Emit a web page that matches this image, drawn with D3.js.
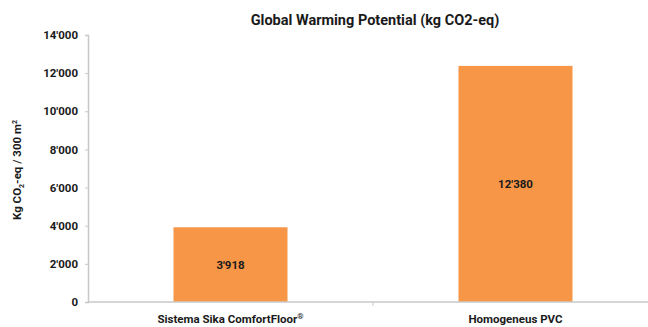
<!DOCTYPE html>
<html>
<head>
<meta charset="utf-8">
<script src="https://cdn.jsdelivr.net/npm/d3@7"></script>
<style>
  body { margin: 0; background: #fff; }
  text { font-family: Roboto, "DejaVu Sans", sans-serif; font-weight: bold; fill: #1a1a1a; }
</style>
</head>
<body>
<div class="graph"></div>
<script>
const categories = ["Sistema Sika ComfortFloor®", "Homogeneus PVC"]
const values = [3918, 12380]
const valueLabels = ["3'918", "12'380"]
const yTicks = [0, 2000, 4000, 6000, 8000, 10000, 12000, 14000]

const fmt = d => d === 0 ? "0" : d3.format(",")(d).replace(/,/g, "'")

const svg = d3.select(".graph").append("svg").attr("width", 648).attr("height", 327)
const marginLeft = 88, marginTop = 35, plotW = 570, plotH = 267

const xScale = d3.scaleBand().domain(categories).range([0, plotW]).paddingInner(0.6).paddingOuter(0.3)
const yScale = d3.scaleLinear().domain([0, 14000]).range([plotH, 0])

const g = svg.append("g").attr("transform", "translate(" + marginLeft + "," + marginTop + ")")

// title
svg.append("text").attr("x", 375).attr("y", 25).attr("text-anchor", "middle")
   .style("font-size", "14.5px").text("Global Warming Potential (kg CO2-eq)")

// bars
g.selectAll("rect").data(values).enter().append("rect")
 .attr("x", (d, i) => xScale(categories[i]))
 .attr("y", d => yScale(d))
 .attr("width", xScale.bandwidth())
 .attr("height", d => plotH - yScale(d))
 .attr("fill", "#f79646")

g.selectAll(".val").data(values).enter().append("text")
 .attr("class", "val")
 .attr("x", (d, i) => xScale(categories[i]) + xScale.bandwidth() / 2)
 .attr("y", d => yScale(d / 2))
 .attr("dy", "0.35em")
 .attr("text-anchor", "middle")
 .style("font-size", "11.5px")
 .text((d, i) => valueLabels[i])

// y axis
const yAxis = g.append("g").call(d3.axisLeft(yScale).tickValues(yTicks).tickFormat(fmt).tickSize(3).tickPadding(7))
yAxis.select(".domain").attr("stroke", "#c8c8c8").attr("stroke-width", 1.5)
yAxis.selectAll(".tick line").attr("stroke", "#c8c8c8")
yAxis.selectAll("text").style("font-size", "11.5px").attr("fill", "#1a1a1a")

// x axis: ticks on category boundaries
const xAxis = g.append("g").attr("transform", "translate(0," + plotH + ")")
xAxis.append("line").attr("x1", 0).attr("x2", plotW).attr("stroke", "#c8c8c8").attr("stroke-width", 1.5)
const step = xScale.step()
xAxis.selectAll(".xt").data(categories).enter().append("line")
 .attr("x1", (d, i) => xScale(d) + xScale.bandwidth() / 2 + step / 2)
 .attr("x2", (d, i) => xScale(d) + xScale.bandwidth() / 2 + step / 2)
 .attr("y1", 0).attr("y2", 4).attr("stroke", "#c8c8c8")
const xl = xAxis.selectAll(".xl").data(categories).enter().append("text")
 .attr("x", d => xScale(d) + xScale.bandwidth() / 2)
 .attr("y", 21)
 .attr("text-anchor", "middle")
 .style("font-size", "11.5px")
xl.append("tspan").text(d => d.replace("®", ""))
xl.filter(d => d.includes("®")).append("tspan").text("®")
  .style("font-size", "8px").attr("dy", -4)

// y title
const yt = svg.append("text").attr("transform", "translate(21,170) rotate(-90)")
 .attr("text-anchor", "middle").style("font-size", "11.5px")
yt.append("tspan").text("Kg CO")
yt.append("tspan").text("2").style("font-size", "7px").attr("dy", 3)
yt.append("tspan").text("-eq / 300 m").attr("dy", -3)
yt.append("tspan").text("2").style("font-size", "7px").attr("dy", -4)
</script>
</body>
</html>
